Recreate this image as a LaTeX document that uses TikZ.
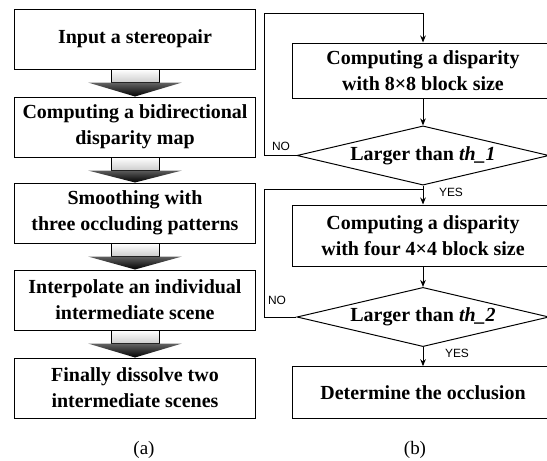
\documentclass[tikz,border=0pt]{standalone}
\usepackage{fontspec}
\setmainfont{Liberation Serif}
\newfontfamily\yesnofont{Liberation Sans}
\usepackage{tikz}
\usetikzlibrary{arrows.meta, positioning, shapes.geometric}

\begin{document}
\begin{tikzpicture}[x=0.025cm, y=-0.025cm, >={Stealth[length=5pt, width=4pt]}, line width=0.7pt,
		box/.style={draw, align=center, inner sep=2pt, font=\fontsize{14.2}{18.5}\selectfont\bfseries},
		leftbox/.style={box, minimum width=6cm, minimum height=1.5cm},
		rightbox/.style={box, minimum width=6.5cm},
		decision/.style={draw, diamond, shape aspect=4.3, inner sep=1pt, minimum width=6.3cm, minimum height=1.48cm, font=\fontsize{14.2}{18.5}\selectfont\bfseries},
		yesno/.style={inner sep=0pt, font=\yesnofont\fontsize{8.5}{10}\selectfont},
		caption/.style={font=\fontsize{13.5}{15}\selectfont}]
		
		\useasboundingbox (0,0) rectangle (547,461);
		\clip (0,0) rectangle (547,461);
		
		% ================= (a) procedura completa =================
		\node[leftbox] (B_input)    at (135,39)  {Input a stereopair};
		\node[leftbox] (B_bidir)    at (135,127) {Computing a bidirectional\\disparity map};
		\node[leftbox] (B_smooth)   at (135,213) {Smoothing with\\three occluding patterns};
		\node[leftbox] (B_interp)   at (135,300) {Interpolate an individual\\intermediate scene};
		\node[leftbox] (B_dissolve) at (135,388) {Finally dissolve two\\intermediate scenes};
		
		% frecce piene tra i passi
		\foreach \a/\b in {B_input/B_bidir, B_bidir/B_smooth, B_smooth/B_interp, B_interp/B_dissolve} {
			\draw[line width=0.5pt, top color=white, bottom color=gray!40] (\a.south) ++(-24,0) rectangle ++(48,13);
			\shade[top color=gray!50, bottom color=black] (\a.south) ++(-47,13) -- ++(94,0) -- (\b.north) -- cycle;
		}
		
		\node[caption] (cap_a) at (144,450) {(a)};
		
		% ================= (b) test di occlusione =================
		\node[rightbox, minimum height=1.375cm] (D_eight) at (423,70.5)  {Computing a disparity\\with 8×8 block size};
		\node[decision]                         (T_one)   at (423,155.5) {Larger than \textit{th\_1}};
		\node[rightbox, minimum height=1.525cm] (D_four)  at (423,235.5) {Computing a disparity\\with four 4×4 block size};
		\node[decision]                         (T_two)   at (423,317)   {Larger than \textit{th\_2}};
		\node[rightbox, minimum height=1.29cm]  (D_occl)  at (423,392.5) {Determine the occlusion};
		
		% punti di ritorno dei rami NO
		\coordinate (L_top) at (264,13);
		\coordinate (L_mid) at (264,189);
		
		\draw[->] (D_eight) -- (T_one);
		\draw[->] (T_one) -- (D_four);
		\draw[->] (D_four) -- (T_two);
		\draw[->] (T_two) -- (D_occl);
		\draw[->] (T_one.west) -| (L_top) -| (D_eight.north);
		\draw (T_two.west) -| (L_mid) -- (L_mid -| T_one.south);
		
		\node[yesno] (no_one)  at (281,146) {NO};
		\node[yesno] (yes_one) at (451,192) {YES};
		\node[yesno] (no_two)  at (277,300) {NO};
		\node[yesno] (yes_two) at (457,353) {YES};
		
		\node[caption] (cap_b) at (415,450) {(b)};
		
	\end{tikzpicture}
\end{document}
